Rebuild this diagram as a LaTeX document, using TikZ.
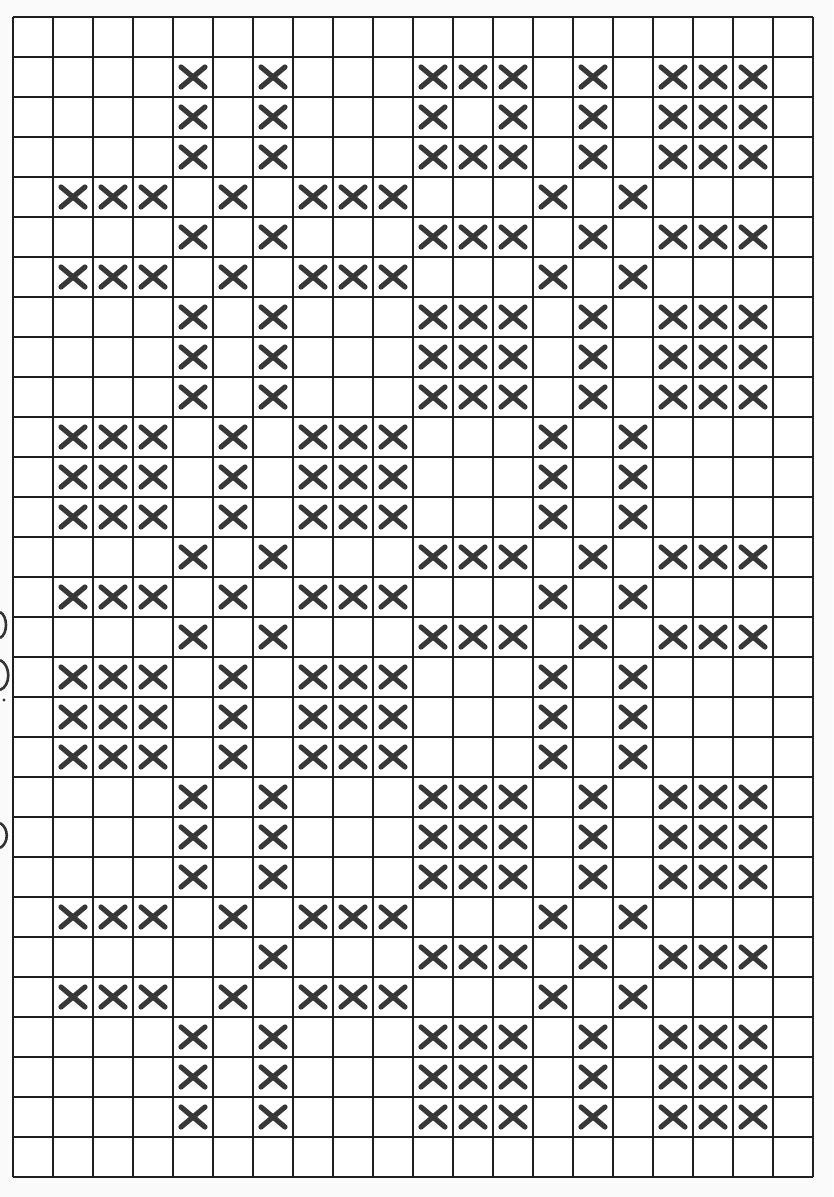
\documentclass[tikz,border=0pt]{standalone}
\newcommand\crossat[2]{%
  \draw[xmark] ({-7+40*#1-12},{-3+40*#2-10}) -- ({-7+40*#1+12},{-3+40*#2+10});
  \draw[xmark] ({-7+40*#1-12},{-3+40*#2+10}) -- ({-7+40*#1+12},{-3+40*#2-10});}
\newcommand\rowA[1]{\foreach \c in {5,7,11,12,13,15,17,18,19} {\crossat{\c}{#1}}}
\newcommand\rowB[1]{\foreach \c in {2,3,4,6,8,9,10,14,16} {\crossat{\c}{#1}}}
\begin{document}
\begin{tikzpicture}[x=1pt,y=-1pt,
  gridline/.style={line width=2.5pt, draw=black!88},
  xmark/.style={line width=5.2pt, line cap=round, draw=black!78},
  edgemark/.style={line width=2.6pt, draw=black!80}]
\useasboundingbox (0,0) rectangle (833,1197);
\fill[white!98!black] (0,0) rectangle (833,1197);
\fill[white] (13,17) rectangle (813,1177);
% grid
\foreach \i in {0,...,20} \draw[gridline] ({13+40*\i},17) -- ({13+40*\i},1177);
\foreach \j in {0,...,29} \draw[gridline] (13,{17+40*\j}) -- (813,{17+40*\j});
% crosses
\rowA{2}
\foreach \c in {5,7,11,13,15,17,18,19} {\crossat{\c}{3}}
\rowA{4}
\rowB{5}
\rowA{6}
\rowB{7}
\foreach \r in {8,9,10} {\rowA{\r}}
\foreach \r in {11,12,13} {\rowB{\r}}
\rowA{14}
\rowB{15}
\rowA{16}
\foreach \r in {17,18,19} {\rowB{\r}}
\foreach \r in {20,21,22} {\rowA{\r}}
\rowB{23}
\foreach \c in {7,11,12,13,15,17,18,19} {\crossat{\c}{24}}
\rowB{25}
\foreach \r in {26,27,28} {\rowA{\r}}
% partial marks at the left edge
\draw[edgemark] (0,612) .. controls (8,616) and (8,634) .. (0,638);
\draw[edgemark] (0,660) .. controls (11,665) and (11,686) .. (0,690);
\fill[black!80] (4,700) circle (1.6);
\draw[edgemark] (0,823) .. controls (9,828) and (9,843) .. (0,848);
\end{tikzpicture}
\end{document}
